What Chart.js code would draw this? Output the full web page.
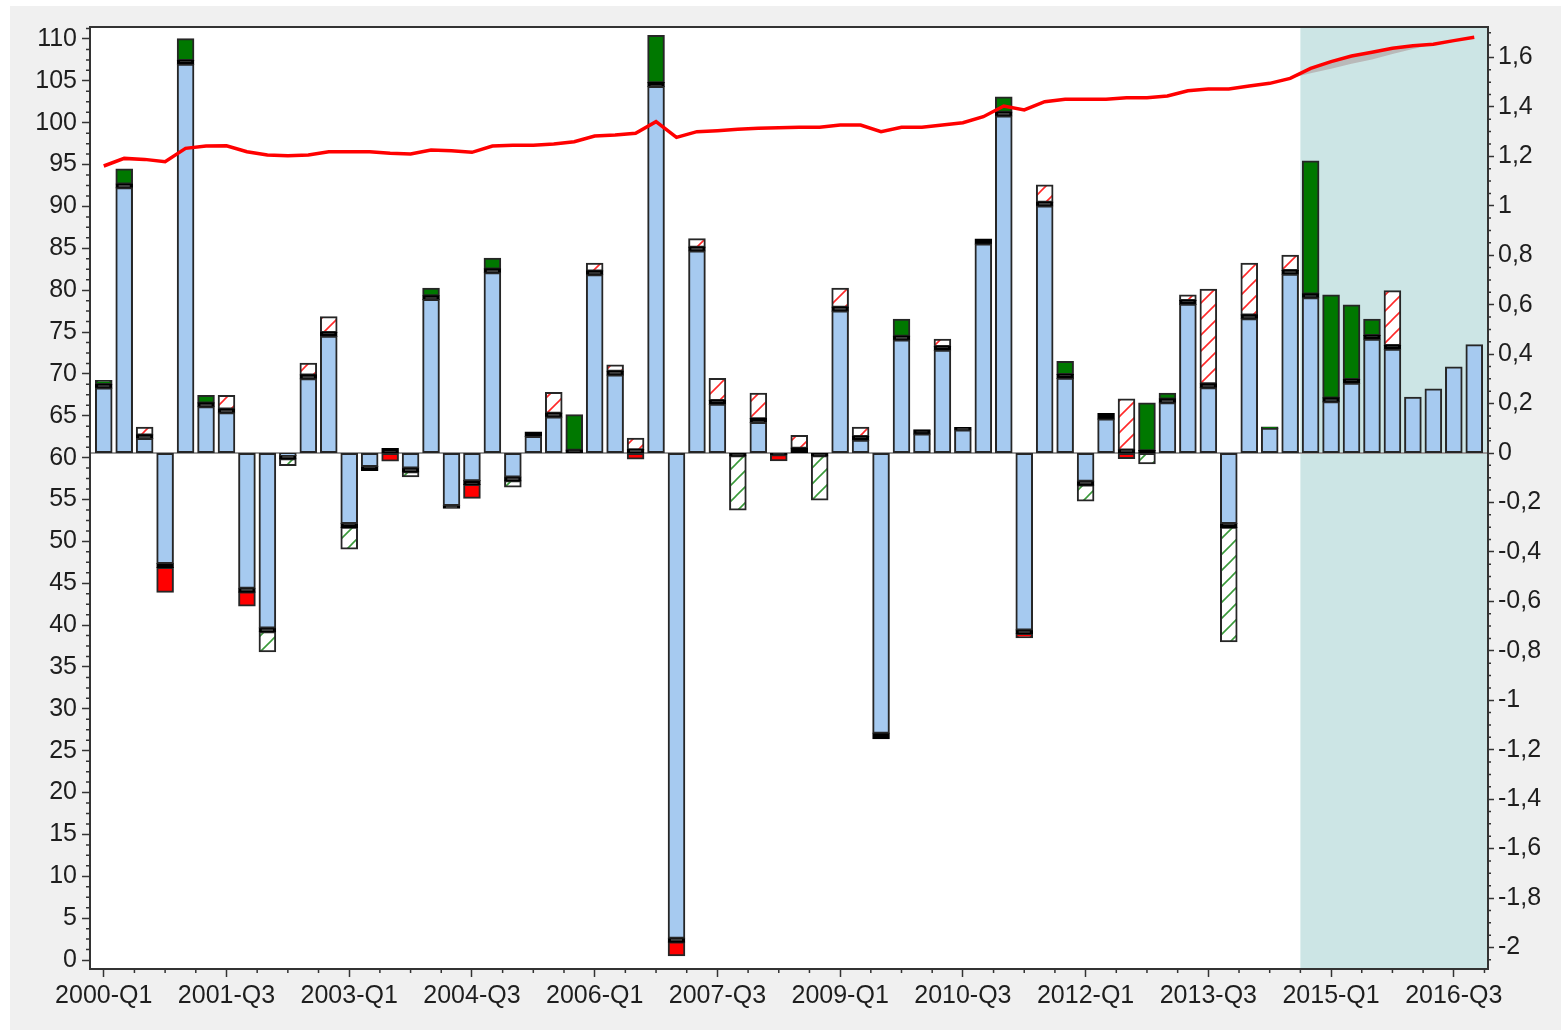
<!DOCTYPE html>
<html>
<head>
<meta charset="utf-8">
<title>Quarterly contributions and index</title>
<script src="https://cdn.jsdelivr.net/npm/chart.js@4.4.1/dist/chart.umd.min.js"></script>
<style>
  html, body { margin: 0; padding: 0; background: #fff; }
  #wrap { position: relative; width: 1561px; height: 1030px; }
</style>
</head>
<body>
<div id="wrap"><canvas id="chart"></canvas></div>
<script>
/* Quarterly growth contributions (right axis) with index level line (left axis) */
(function () {
  'use strict';

  const QUARTERS = [
    '2000-Q1', '2000-Q2', '2000-Q3', '2000-Q4', '2001-Q1', '2001-Q2', '2001-Q3', '2001-Q4',
    '2002-Q1', '2002-Q2', '2002-Q3', '2002-Q4', '2003-Q1', '2003-Q2', '2003-Q3', '2003-Q4',
    '2004-Q1', '2004-Q2', '2004-Q3', '2004-Q4', '2005-Q1', '2005-Q2', '2005-Q3', '2005-Q4',
    '2006-Q1', '2006-Q2', '2006-Q3', '2006-Q4', '2007-Q1', '2007-Q2', '2007-Q3', '2007-Q4',
    '2008-Q1', '2008-Q2', '2008-Q3', '2008-Q4', '2009-Q1', '2009-Q2', '2009-Q3', '2009-Q4',
    '2010-Q1', '2010-Q2', '2010-Q3', '2010-Q4', '2011-Q1', '2011-Q2', '2011-Q3', '2011-Q4',
    '2012-Q1', '2012-Q2', '2012-Q3', '2012-Q4', '2013-Q1', '2013-Q2', '2013-Q3', '2013-Q4',
    '2014-Q1', '2014-Q2', '2014-Q3', '2014-Q4', '2015-Q1', '2015-Q2', '2015-Q3', '2015-Q4',
    '2016-Q1', '2016-Q2', '2016-Q3', '2016-Q4',
  ];

  // bar components, right axis units
  const BLUE = [
    0.262, 1.072, 0.058, -0.447, 1.572, 0.187, 0.162, -0.547, -0.707, -0.01,
    0.3, 0.472, -0.285, -0.054, null, -0.06, 0.62, -0.212, -0.112, 0.729,
    -0.097, 0.066, 0.145, null, 0.721, 0.315, null, 1.482, -1.962, 0.817,
    0.197, null, 0.123, null, null, null, 0.574, 0.051, -1.133, 0.457,
    0.076, 0.415, 0.093, 0.845, 1.363, -0.715, 0.999, 0.302, -0.114, 0.137,
    null, null, 0.203, 0.601, 0.264, -0.285, 0.543, 0.1, 0.723, 0.628,
    0.207, 0.282, 0.46, 0.419, 0.225, 0.258, 0.347, 0.437,
  ];
  const BLACK = [
    0.016, 0.016, 0.015, -0.016, 0.016, 0.016, 0.016, -0.016, -0.016, -0.014,
    0.016, 0.016, -0.016, -0.016, 0.018, -0.016, 0.016, -0.011, -0.016, 0.016,
    -0.016, 0.019, 0.016, 0.012, 0.016, 0.016, 0.014, 0.016, -0.016, 0.016,
    0.016, -0.012, 0.016, -0.007, 0.02, -0.012, 0.016, 0.016, -0.022, 0.016,
    0.018, 0.016, 0.01, 0.02, 0.016, -0.016, 0.016, 0.016, -0.016, 0.022,
    0.013, 0.01, 0.016, 0.016, 0.016, -0.016, 0.016, null, 0.016, 0.016,
    0.016, 0.016, 0.016, 0.016, null, null, null, null,
  ];
  const GREEN = [
    0.015, 0.06, null, null, 0.087, 0.029, null, null, null, null,
    null, null, null, null, null, null, 0.03, null, null, 0.042,
    null, null, null, 0.142, null, null, null, 0.19, null, null,
    null, null, null, null, null, null, null, null, null, 0.068,
    null, null, null, null, 0.06, null, null, 0.052, null, null,
    null, 0.192, 0.022, null, null, null, null, 0.005, null, 0.537,
    0.416, 0.3, 0.065, null, null, null, null, null,
  ];
  const RED = [
    null, null, null, -0.1, null, null, null, -0.055, null, null,
    null, null, null, null, -0.032, null, null, null, -0.055, null,
    null, null, null, null, null, null, -0.024, null, -0.055, null,
    null, null, null, -0.024, null, null, null, null, null, null,
    null, null, null, null, null, -0.016, null, null, null, null,
    -0.022, null, null, null, null, null, null, null, null, null,
    null, null, null, null, null, null, null, null,
  ];
  const RED_HATCH = [
    null, null, 0.031, null, null, null, 0.054, null, null, null,
    0.047, 0.063, null, null, null, null, null, null, null, null,
    null, null, 0.083, null, 0.03, 0.025, 0.045, null, null, 0.033,
    0.088, null, 0.102, null, 0.05, null, 0.076, 0.037, null, null,
    null, 0.029, null, null, null, null, 0.069, null, null, null,
    0.205, null, null, 0.022, 0.382, null, 0.208, null, 0.06, null,
    null, null, null, 0.221, null, null, null, null,
  ];
  const GREEN_HATCH = [
    null, null, null, null, null, null, null, null, -0.08, -0.026,
    null, null, -0.087, null, null, -0.02, null, null, null, null,
    -0.024, null, null, null, null, null, null, null, null, null,
    null, -0.218, null, null, null, -0.178, null, null, null, null,
    null, null, null, null, null, null, null, null, -0.064, null,
    null, -0.043, null, null, null, -0.462, null, null, null, null,
    null, null, null, null, null, null, null, null,
  ];

  // index level, left axis
  const INDEX = [
    94.83, 95.74, 95.62, 95.34, 96.94, 97.22, 97.25, 96.54, 96.14, 96.06,
    96.14, 96.54, 96.54, 96.54, 96.34, 96.26, 96.74, 96.66, 96.46, 97.22,
    97.30, 97.30, 97.46, 97.73, 98.41, 98.53, 98.73, 100.12, 98.25, 98.93,
    99.05, 99.21, 99.33, 99.41, 99.45, 99.45, 99.72, 99.72, 98.93, 99.45,
    99.45, 99.72, 100.00, 100.72, 101.99, 101.52, 102.51, 102.79, 102.79, 102.79,
    102.99, 102.99, 103.19, 103.82, 104.02, 104.02, 104.38, 104.70, 105.30, 106.49,
    107.29, 107.97, 108.41, 108.88, 109.20, 109.36, 109.80, 110.20,
  ];
  // lower edge of the grey band under the forecast
  const BAND_LOW = [
    null, null, null, null, null, null, null, null, null, null,
    null, null, null, null, null, null, null, null, null, null,
    null, null, null, null, null, null, null, null, null, null,
    null, null, null, null, null, null, null, null, null, null,
    null, null, null, null, null, null, null, null, null, null,
    null, null, null, null, null, null, null, null, 105.30, 105.9,
    106.45, 107.05, 107.55, 108.2, 108.8, 109.36, null, null,
  ];

  const LEFT_TICKS = [0, 5, 10, 15, 20, 25, 30, 35, 40, 45, 50, 55, 60, 65, 70, 75, 80, 85, 90, 95, 100, 105, 110];
  const RIGHT_TICKS = [-2, -1.8, -1.6, -1.4, -1.2, -1, -0.8, -0.6, -0.4, -0.2, 0, 0.2, 0.4, 0.6, 0.8, 1, 1.2, 1.4, 1.6];
  const X_TICKS = [0, 6, 12, 18, 24, 30, 36, 42, 48, 54, 60, 66];
  const FORECAST_START = 58.5;

  const C = {
    panel: '#f0f0f0',
    shade: '#cce5e5',
    blue: '#a6caf0',
    green: '#007800',
    red: '#ff0000',
    redHatch: '#ff2a2a',
    greenHatch: '#3a9a3a',
    edge: '#262626',
    axis: '#333333',
    text: '#1e1e1e',
    zero: '#9a9a9a',
    band: '#b9b9b9',
  };
  const FONT = { family: '"Liberation Sans", Arial, sans-serif', size: 25 };

  function hatch(color) {
    const s = 16;
    const c = document.createElement('canvas');
    c.width = s; c.height = s;
    const g = c.getContext('2d');
    g.fillStyle = '#fff';
    g.fillRect(0, 0, s, s);
    g.strokeStyle = color;
    g.lineWidth = 1.6;
    g.beginPath();
    g.moveTo(0, s); g.lineTo(s, 0);
    g.moveTo(-2, 2); g.lineTo(2, -2);
    g.moveTo(s - 2, s + 2); g.lineTo(s + 2, s - 2);
    g.stroke();
    return g.createPattern(c, 'repeat');
  }

  const pts = (arr) => arr.map((v, i) => ({ x: i, y: v }));

  function barSet(label, values, fill, edge) {
    return {
      type: 'bar', label, data: pts(values), xAxisID: 'x', yAxisID: 'y2',
      backgroundColor: fill, borderColor: edge || C.edge, borderWidth: 2, borderSkipped: false,
      inflateAmount: 0.6,
      barPercentage: 0.8, categoryPercentage: 1, order: 3,
    };
  }

  const decor = {
    id: 'decor',
    beforeDraw(chart) {
      const { ctx, chartArea: a, width, height } = chart;
      ctx.save();
      ctx.fillStyle = '#fff';
      ctx.fillRect(0, 0, width, height);
      ctx.fillStyle = C.panel;
      ctx.fillRect(10, 6, width - 10, height - 6);
      ctx.fillStyle = '#fff';
      ctx.fillRect(a.left, a.top, a.width, a.height);
      ctx.restore();
    },
    beforeDatasetsDraw(chart) {
      const { ctx, chartArea: a, scales } = chart;
      ctx.save();
      const xs = scales.x.getPixelForValue(FORECAST_START);
      ctx.fillStyle = C.shade;
      ctx.fillRect(xs, a.top, a.right - xs, a.height);
      const y0 = scales.y2.getPixelForValue(0);
      ctx.strokeStyle = C.zero;
      ctx.lineWidth = 2;
      ctx.beginPath();
      ctx.moveTo(a.left, y0); ctx.lineTo(a.right, y0);
      ctx.stroke();
      ctx.restore();
    },
    afterDraw(chart) {
      const { ctx, chartArea: a, scales } = chart;
      ctx.save();
      ctx.strokeStyle = C.axis;
      ctx.lineWidth = 1.5;
      ctx.beginPath();
      for (let k = 1; k <= 89; k++) {
        if (k % 4 === 0) continue;
        const y = scales.y.getPixelForValue(k * 1.25);
        ctx.moveTo(a.left - 4, y); ctx.lineTo(a.left, y);
      }
      for (let k = -41; k <= 34; k++) {
        if (k % 4 === 0) continue;
        const y = scales.y2.getPixelForValue(k * 0.05);
        ctx.moveTo(a.right, y); ctx.lineTo(a.right + 3, y);
      }
      for (let k = 1; k <= 45; k++) {
        if (k % 4 === 0) continue;
        const x = scales.x.getPixelForValue(k * 1.5);
        ctx.moveTo(x, a.bottom); ctx.lineTo(x, a.bottom + 4);
      }
      ctx.stroke();
      ctx.lineWidth = 2;
      ctx.strokeRect(a.left, a.top, a.width, a.height);
      ctx.restore();
    },
  };

  const tickGrid = (len) => ({
    display: true, drawOnChartArea: false, drawTicks: true, offset: false,
    tickLength: len, tickColor: C.axis, tickWidth: 1.5,
  });

  const datasets = [
    barSet('Blue', BLUE, C.blue),
    barSet('Black', BLACK, '#000', '#000'),
    barSet('Green', GREEN, C.green),
    barSet('Red', RED, C.red),
    barSet('Red hatched', RED_HATCH, hatch(C.redHatch)),
    barSet('Green hatched', GREEN_HATCH, hatch(C.greenHatch)),
    {
      type: 'line', label: 'Band', data: pts(BAND_LOW), xAxisID: 'x', yAxisID: 'y',
      borderWidth: 0, pointRadius: 0, fill: '+1', backgroundColor: C.band, order: 2,
    },
    {
      type: 'line', label: 'Index', data: pts(INDEX), xAxisID: 'x', yAxisID: 'y',
      borderColor: C.red, borderWidth: 3.5, pointRadius: 0, tension: 0, fill: false, order: 1,
    },
  ];

  new Chart(document.getElementById('chart'), {
    type: 'bar',
    data: { datasets },
    plugins: [decor],
    options: {
      responsive: true, maintainAspectRatio: false, animation: false,
      layout: { padding: { left: 10, top: 27, right: 0, bottom: 0 } },
      plugins: { legend: { display: false }, tooltip: { enabled: false } },
      scales: {
        x: {
          type: 'linear', position: 'bottom', min: -0.672, max: 67.672, bounds: 'data',
          offset: false, stacked: true,
          grid: tickGrid(8), border: { display: false },
          ticks: { autoSkip: false, maxRotation: 0, padding: 4, color: C.text, font: FONT,
                   callback: (v) => QUARTERS[v] || '' },
          afterBuildTicks: (s) => { s.ticks = X_TICKS.map((value) => ({ value })); },
          afterFit: (s) => { s.height = 61; },
        },
        y: {
          type: 'linear', position: 'left', min: -1.07, max: 111.43, bounds: 'data',
          grid: tickGrid(8), border: { display: false },
          ticks: { padding: 5, color: C.text, font: FONT, callback: (v) => String(v) },
          afterBuildTicks: (s) => { s.ticks = LEFT_TICKS.map((value) => ({ value })); },
          afterFit: (s) => { s.width = 80; },
        },
        y2: {
          type: 'linear', position: 'right', min: -2.087, max: 1.723, bounds: 'data', stacked: true,
          grid: tickGrid(6), border: { display: false },
          ticks: { padding: 4, color: C.text, font: FONT,
                   callback: (v) => String(v).replace('.', ',') },
          afterBuildTicks: (s) => { s.ticks = RIGHT_TICKS.map((value) => ({ value })); },
          afterFit: (s) => { s.width = 73; },
        },
      },
    },
  });
})();
</script>
</body>
</html>
